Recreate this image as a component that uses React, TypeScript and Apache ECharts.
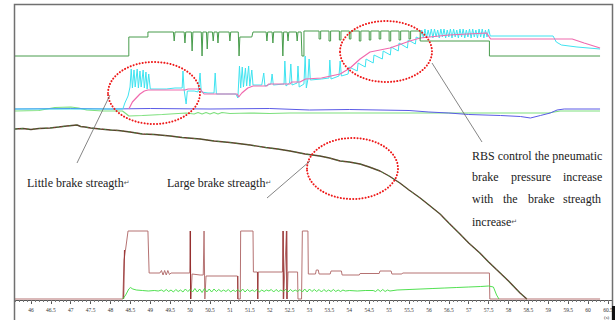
import React, { useEffect, useRef } from "react";
import * as echarts from "echarts";

// Time tick labels (s)
const xTickLabels = [46, 46.5, 47, 47.5, 48, 48.5, 49, 49.5, 50, 50.5, 51, 51.5, 52, 52.5, 53, 53.5, 54, 54.5, 55, 55.5, 56, 56.5, 57, 57.5, 58, 58.5, 59, 59.5, 60, 60.5];

// Top step signal (dark green)
const stepSignal = [
  [45.6, 244], [48.46, 244], [48.46, 263], [48.94, 263], [48.94, 268],
  [49.58, 268], [49.6, 259], [49.62, 268],
  [49.85, 268], [49.87, 257], [49.89, 268],
  [50.03, 268], [50.05, 249], [50.07, 268],
  [50.28, 268], [50.3, 244], [50.32, 268],
  [50.41, 268], [50.43, 251], [50.45, 268],
  [50.56, 268], [50.58, 259], [50.6, 268],
  [50.68, 268], [50.7, 257], [50.72, 268],
  [50.98, 268], [51.0, 259], [51.02, 268],
  [51.21, 268], [51.23, 244], [51.25, 263], [51.55, 263], [51.58, 268],
  [51.91, 268], [51.93, 259], [51.95, 268],
  [52.06, 268], [52.08, 257], [52.1, 268],
  [52.31, 268], [52.33, 244], [52.35, 268],
  [52.44, 268], [52.46, 259], [52.48, 268],
  [52.67, 268], [52.69, 259], [52.71, 268],
  [52.79, 268], [52.81, 244], [52.86, 244], [52.86, 269],
  [53.24, 269], [53.24, 261], [53.28, 261], [53.28, 269],
  [53.49, 269], [53.49, 259], [53.53, 259], [53.53, 269],
  [53.75, 269], [53.75, 260], [53.79, 260], [53.79, 269],
  [54.0, 269], [54.0, 261], [54.04, 261], [54.04, 269],
  [54.25, 269], [54.25, 259], [54.29, 259], [54.29, 269],
  [54.5, 269], [54.5, 260], [54.54, 260], [54.54, 269],
  [54.75, 269], [54.75, 261], [54.79, 261], [54.79, 269],
  [55.0, 269], [55.0, 259], [55.04, 259], [55.04, 269],
  [55.25, 269], [55.25, 260], [55.29, 260], [55.29, 269],
  [55.5, 269], [55.5, 261], [55.54, 261], [55.54, 269],
  [55.78, 269], [55.78, 259], [57.52, 259], [57.52, 244], [60.3, 244]
];

// Cyan pressure
const cyanPressure = [
  [45.6, 191], [48.31, 191], [48.36, 197], [48.44, 204], [48.49, 213],
  [48.52, 231], [48.55, 212], [48.59, 230], [48.62, 213], [48.67, 231], [48.7, 212],
  [48.74, 229], [48.77, 213], [48.82, 230], [48.85, 212], [48.89, 228], [48.92, 211],
  [48.96, 226], [49.0, 211], [49.4, 211], [49.62, 212],
  [49.8, 212], [49.82, 229], [49.85, 210], [49.9, 196], [49.93, 209],
  [50.1, 209], [50.2, 208], [50.25, 227], [50.28, 208], [50.45, 207], [50.6, 207],
  [50.63, 227], [50.66, 206], [50.9, 206], [51.15, 206], [51.2, 202],
  [51.24, 234], [51.27, 212], [51.31, 233], [51.34, 213], [51.39, 232], [51.42, 214],
  [51.47, 234], [51.5, 214], [51.55, 230], [51.58, 215], [51.8, 215],
  [51.85, 227], [51.88, 214], [52.03, 216], [52.06, 226], [52.09, 215],
  [52.36, 216], [52.38, 239], [52.41, 214], [52.5, 217], [52.53, 236], [52.56, 215],
  [52.69, 217], [52.71, 234], [52.74, 213], [52.86, 216], [52.89, 244], [52.92, 212],
  [52.96, 221], [52.99, 241], [53.02, 220], [53.3, 221], [53.49, 222], [53.51, 240],
  [53.54, 221], [53.74, 224], [53.77, 239], [53.8, 224],
  [53.97, 226], [53.99, 233], [54.2, 229], [54.22, 237], [54.4, 233], [54.42, 241],
  [54.6, 237], [54.62, 245], [54.83, 241], [54.85, 249], [55.03, 245], [55.05, 253],
  [55.23, 249], [55.25, 257], [55.46, 252], [55.48, 260], [55.66, 256], [55.68, 263],
  [55.78, 261],
  [55.82, 270], [55.86, 262], [55.9, 271], [55.94, 262], [55.98, 270], [56.02, 263],
  [56.06, 271], [56.1, 262], [56.14, 271], [56.18, 263], [56.22, 270], [56.26, 262],
  [56.3, 271], [56.34, 263], [56.38, 271], [56.42, 262], [56.46, 270], [56.5, 263],
  [56.54, 271], [56.58, 262], [56.62, 271], [56.66, 263], [56.7, 270], [56.74, 262],
  [56.78, 271], [56.82, 263], [56.86, 271], [56.9, 262], [56.94, 270], [56.98, 263],
  [57.02, 271], [57.06, 262], [57.1, 271], [57.14, 263], [57.18, 270], [57.22, 262],
  [57.26, 271], [57.3, 263], [57.34, 271], [57.38, 262], [57.42, 270], [57.46, 263],
  [57.5, 271], [57.54, 264],
  [59.12, 264], [59.2, 258], [59.33, 255], [59.72, 253], [60.3, 251]
];

// Pink target pressure
const pinkPressure = [
  [48.46, 191], [48.55, 198], [48.62, 201], [48.74, 206], [48.85, 209], [48.94, 210],
  [49.87, 210], [49.95, 211], [50.25, 211], [50.35, 206], [51.18, 206], [51.22, 203],
  [51.3, 207], [51.45, 212], [51.58, 214], [51.93, 214], [51.97, 216], [52.51, 216],
  [52.55, 218], [52.76, 218], [52.9, 221], [53.3, 222], [53.77, 226], [54.02, 232],
  [54.27, 241], [54.52, 248], [55.02, 252], [55.52, 259], [55.78, 262], [56.5, 265],
  [57.45, 267], [57.55, 261], [59.6, 261], [59.9, 257], [60.3, 252]
];

// Blue signal
const blueSignal = [
  [45.6, 191], [47.0, 191.5], [48.0, 191], [49.0, 191.5], [50.5, 191], [52.0, 191.5],
  [53.0, 190], [54.0, 190.5], [55.5, 189.5], [56.0, 188], [56.5, 187], [57.0, 185.5],
  [57.8, 184.5], [58.3, 183.5], [58.55, 182], [58.8, 184.5], [59.05, 187], [59.22, 190],
  [59.4, 191], [60.3, 191]
];

// Light green middle signal
const greenMid = [
  [45.6, 189], [46.2, 189.5], [46.4, 191], [46.6, 192.5], [47.0, 193], [47.2, 192],
  [47.4, 190], [47.8, 189], [48.3, 189], [48.4, 186], [48.46, 184], [48.8, 184.5],
  [49.3, 185.5], [49.9, 187], [50.1, 186], [50.2, 187.5], [50.3, 186], [50.4, 187.5],
  [50.5, 186], [50.6, 187.5], [50.7, 186], [50.8, 187.5], [51.0, 186.5], [51.5, 187],
  [52.0, 186.5], [52.5, 187], [53.0, 187], [57.0, 187], [59.0, 187], [59.3, 189], [60.3, 189]
];

// Train speed
const speedCurve = [
  [45.6, 171], [45.8, 171.5], [46.0, 170.5], [46.2, 171.5], [46.48, 172], [46.7, 173],
  [46.9, 174], [47.16, 175], [47.25, 173.5], [47.36, 173], [47.5, 172], [47.74, 171],
  [48.0, 170], [48.2, 169.5], [48.49, 168], [48.8, 166], [49.1, 165.5], [49.5, 164],
  [49.8, 162.5], [50.25, 161], [50.6, 159], [51.0, 157.5], [51.51, 155], [51.9, 152.5],
  [52.2, 151], [52.51, 149], [52.89, 146], [53.26, 144], [53.5, 142], [53.77, 139],
  [54.0, 138], [54.27, 136], [54.5, 133], [54.77, 129], [55.0, 124], [55.27, 117],
  [55.5, 110], [55.78, 102], [56.0, 95], [56.28, 86], [56.5, 77], [56.78, 66],
  [57.0, 57], [57.28, 47], [57.5, 38], [57.79, 27], [58.0, 19], [58.29, 7], [58.46, 1]
];

// Brake level (brown)
const brakeLevel = [
  [45.6, 1], [48.31, 1], [48.34, 40], [48.38, 51], [48.44, 69], [48.94, 69], [48.97, 27],
  [49.24, 27], [49.28, 29.5], [49.32, 25], [49.36, 29.5], [49.4, 25], [49.44, 29.5],
  [49.48, 25.5], [49.52, 27], [49.99, 27], [50.0, 69], [50.02, 1], [50.05, 26],
  [50.25, 25], [50.33, 25], [50.35, 69], [50.37, 1], [50.4, 24], [51.19, 24], [51.2, 1],
  [51.26, 1], [51.27, 69], [51.58, 69], [51.59, 28], [51.69, 28], [51.7, 1], [51.71, 28],
  [52.32, 28], [52.33, 69], [52.35, 1], [52.42, 69], [52.44, 1], [52.46, 28], [52.7, 28],
  [52.71, 1], [52.8, 1], [52.82, 69], [52.96, 69], [52.97, 26], [53.15, 26], [53.17, 30],
  [53.22, 30], [53.24, 26], [53.52, 26], [53.54, 29], [53.8, 29], [53.82, 25], [54.25, 25],
  [54.27, 26.5], [54.75, 26.5], [54.77, 29], [55.05, 29], [55.07, 26], [55.32, 26],
  [55.34, 27], [57.52, 27], [57.53, 1], [60.3, 1]
];

// Dark brake spikes
const brakeSpikes: any[] = [
  [48.33, 1], [48.35, 50], "-",
  [50.01, 1], [50.01, 69], "-",
  [51.2, 1], [51.2, 24], "-",
  [51.7, 1], [51.7, 28], "-",
  [52.34, 1], [52.34, 69], "-",
  [52.43, 1], [52.43, 69]
];

// Electric brake (bright green bottom)
const electricBrake = [
  [48.31, 1], [48.38, 5], [48.46, 11], [48.5, 12.5], [48.56, 11], [48.65, 10], [48.8, 9.5],
  [48.95, 9], [49.1, 9.5], [49.2, 9], [49.28, 10], [49.34, 8.5], [49.4, 10.5], [49.46, 8.5],
  [49.52, 10], [49.58, 8], [49.64, 10.5], [49.7, 8.5], [49.76, 10], [49.82, 8], [49.88, 11],
  [49.94, 8.5], [50.0, 10.5], [50.06, 8], [50.12, 11.5], [50.18, 8], [50.24, 11], [50.3, 7.5],
  [50.36, 11.5], [50.42, 8], [50.48, 11], [50.54, 8], [50.6, 11], [50.66, 8.5], [50.72, 10.5],
  [50.78, 8.5], [50.84, 10], [50.9, 8.5], [50.96, 10.5], [51.02, 8], [51.08, 10], [51.14, 8.5],
  [51.2, 10.5], [51.26, 8], [51.32, 11], [51.38, 8], [51.44, 10.5], [51.5, 8.5], [51.56, 10],
  [51.62, 8.5], [51.68, 10.5], [51.74, 8], [51.8, 10], [51.86, 8.5], [51.92, 10], [51.98, 9],
  [52.04, 10.5], [52.1, 8], [52.16, 10.5], [52.22, 8.5], [52.28, 10], [52.34, 8.5], [52.4, 10.5],
  [52.46, 8], [52.52, 10.5], [52.58, 8.5], [52.64, 10], [52.7, 8.5], [52.76, 10.5], [52.82, 8],
  [52.88, 11], [52.94, 8], [53.0, 11], [53.06, 8.5], [53.12, 10.5], [53.18, 8.5], [53.24, 10.5],
  [53.3, 8], [53.36, 10.5], [53.42, 8.5], [53.48, 10], [53.54, 8.5], [53.6, 10.5], [53.66, 8.5],
  [53.72, 10], [53.78, 8.5], [53.84, 10], [53.9, 9], [54.0, 9.5], [54.2, 9], [54.4, 9.5],
  [54.6, 9.5], [54.66, 8.5], [54.72, 10.5], [54.78, 8.5], [54.84, 10.5], [54.9, 8.5], [54.96, 10],
  [55.02, 9], [55.2, 10], [55.5, 10.5], [55.8, 11], [56.1, 11.5], [56.4, 12], [56.7, 12.5],
  [57.0, 13], [57.3, 13.5], [57.5, 14], [57.62, 13], [57.7, 5], [57.76, 1]
];

const minorTicks: number[] = [];
for (let i = 456; i <= 606; i++) minorTicks.push(i / 10);

const serif = '"Liberation Serif", "Times New Roman", serif';

function line(name: string, data: any[], color: string, width: number, z: number, extra: any = {}) {
  return {
    name,
    type: "line",
    data,
    showSymbol: false,
    symbol: "none",
    silent: true,
    z,
    connectNulls: false,
    lineStyle: { color, width, ...extra },
  };
}

function txt(text: string, x: number, y: number, size = 12) {
  return {
    type: "text",
    x,
    y,
    z: 120,
    style: {
      text,
      fill: "#222",
      fontSize: size,
      fontFamily: serif,
      verticalAlign: "middle",
      textVerticalAlign: "middle",
      rich: { r: { fontSize: 7, fill: "#555", fontFamily: "DejaVu Sans" } },
    },
  };
}

function ell(cx: number, cy: number, rx: number, ry: number) {
  return {
    type: "ellipse",
    z: 110,
    shape: { cx, cy, rx, ry },
    style: { fill: "none", stroke: "#ee1a1a", lineWidth: 2, lineDash: [0.1, 3], lineCap: "round" },
  };
}

function lead(x1: number, y1: number, x2: number, y2: number) {
  return {
    type: "line",
    z: 110,
    shape: { x1, y1, x2, y2 },
    style: { stroke: "#666", lineWidth: 0.8 },
  };
}

export default function App() {
  const ref = useRef<HTMLDivElement>(null);
  useEffect(() => {
    if (!ref.current) return;
    const chart = echarts.init(ref.current, undefined, { renderer: "svg" });
    chart.setOption({
      animation: false,
      backgroundColor: "#fff",
      grid: { left: 15, right: 4, top: 4, bottom: 20, outerBoundsMode: "none" },
      xAxis: [
        {
          type: "value",
          min: 45.6,
          max: 60.6,
          position: "bottom",
          axisLine: { show: true, lineStyle: { color: "#555", width: 1 } },
          axisTick: { show: true, customValues: xTickLabels, length: 4, lineStyle: { color: "#555" } },
          axisLabel: {
            customValues: xTickLabels,
            fontSize: 5.5,
            color: "#333",
            fontFamily: serif,
            margin: 7,
            formatter: (v: number) => String(v),
          },
          splitLine: { show: false },
        },
        {
          type: "value",
          min: 45.6,
          max: 60.6,
          position: "bottom",
          axisLine: { show: false },
          axisTick: { show: true, customValues: minorTicks, length: 2, lineStyle: { color: "#777" } },
          axisLabel: { show: false },
          splitLine: { show: false },
        },
      ],
      yAxis: { type: "value", min: 0, max: 296, show: false, splitLine: { show: false } },
      series: [
        line("greenMid", greenMid, "#7ee07e", 1.2, 2),
        line("blue", blueSignal, "#5a5ae6", 1, 3),
        line("cyan", cyanPressure, "#3fe3f0", 1, 4),
        line("pink", pinkPressure, "#f06aae", 1.2, 5),
        line("step", stepSignal, "#489c4c", 1, 6),
        line("brake", brakeLevel, "#b57272", 1, 7),
        line("brakeSpikes", brakeSpikes, "#962e2e", 1, 8),
        line("electric", electricBrake, "#3ddc3d", 0.9, 9),
        line("speed", speedCurve, "#574630", 1.4, 10),
        line("speedG", speedCurve, "#3f9a3f", 0.7, 11, { type: [2, 4] }),
        line("speedR", speedCurve, "#c03030", 0.6, 12, { type: [1, 6], dashOffset: 3 }),
      ],
      graphic: [
        {
          type: "rect",
          z: 100,
          shape: { x: 14.5, y: 4.5, width: 598, height: 330 },
          style: { fill: "none", stroke: "#707070", lineWidth: 1.5 },
        },
        { type: "rect", z: 101, shape: { x: 612, y: 306, width: 3, height: 14 }, style: { fill: "#111" } },
        ell(154, 93, 46, 31),
        ell(386, 51.5, 46, 30.5),
        ell(352.5, 168.5, 45.5, 30.5),
        lead(110, 95, 77, 163),
        lead(310, 161, 267, 198),
        lead(432, 63, 482, 142),
        txt("Little brake streagth{r|↵}", 27, 183),
        txt("Large brake streagth{r|↵}", 167, 183),
        txt("RBS control the pneumatic", 472, 156),
        txt("brake", 472, 177),
        txt("pressure", 511, 177),
        txt("increase", 563, 177),
        txt("with", 472, 199),
        txt("the", 503, 199),
        txt("brake", 528, 199),
        txt("streagth", 563, 199),
        txt("increase{r|↵}", 472, 222),
        {
          type: "text",
          x: 604,
          y: 317,
          z: 120,
          style: { text: "(s)", fill: "#333", fontSize: 5, fontFamily: serif, verticalAlign: "middle" },
        },
      ],
    });
    return () => chart.dispose();
  }, []);
  return (
    <div
      ref={ref}
      style={{ position: "absolute", left: 0, top: 0, width: 616, height: 320, background: "#fff" }}
    />
  );
}
